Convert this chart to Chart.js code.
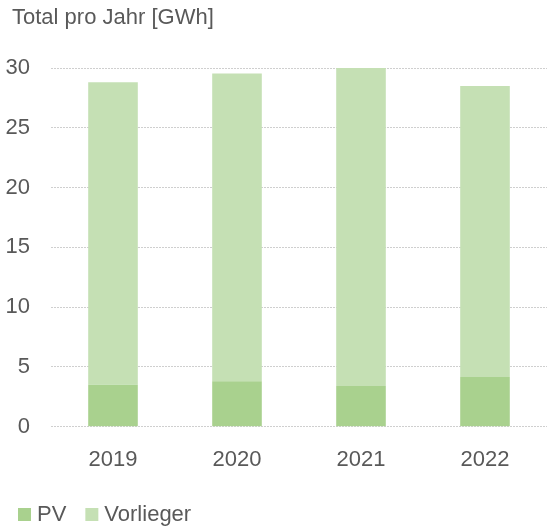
<!DOCTYPE html>
<html>
<head>
<meta charset="utf-8">
<script src="https://cdn.jsdelivr.net/npm/chart.js@4/dist/chart.umd.min.js"></script>
<style>
html,body{margin:0;padding:0;background:#fff;}
#wrap{width:548px;height:529px;position:relative;}
</style>
</head>
<body>
<div id="wrap"><canvas id="c" width="548" height="529"></canvas></div>
<script>
const categories = ['2019', '2020', '2021', '2022'];
const pvValues = [3.5, 3.8, 3.4, 4.15];
const vorliegerValues = [25.3, 25.75, 26.65, 24.35];
const yTicks = [0, 5, 10, 15, 20, 25, 30];
const titleText = 'Total pro Jahr [GWh]';

const FONT = "'Liberation Sans', Arial, sans-serif";
const TXT = '#595959';
const FS = 22;

const textExtras = {
  id: 'textExtras',
  afterDraw(chart) {
    const ctx = chart.ctx;
    ctx.save();
    ctx.font = FS + 'px ' + FONT;
    ctx.textAlign = 'left';
    ctx.textBaseline = 'middle';
    // title
    ctx.fillStyle = TXT;
    ctx.fillText(titleText, 12, 18.2);
    // legend
    let x = 18;
    const cy = 515;
    chart.data.datasets.forEach(ds => {
      ctx.fillStyle = ds.backgroundColor;
      ctx.fillRect(x, cy - 7, 13, 13);
      x += 13 + 6;
      ctx.fillStyle = TXT;
      ctx.fillText(ds.label, x, cy);
      x += ctx.measureText(ds.label).width + 19;
    });
    ctx.restore();
  }
};

new Chart(document.getElementById('c'), {
  type: 'bar',
  data: {
    labels: categories,
    datasets: [
      { label: 'PV', data: pvValues, backgroundColor: '#a9d18e', borderWidth: 0, barPercentage: 0.4, categoryPercentage: 1.0 },
      { label: 'Vorlieger', data: vorliegerValues, backgroundColor: '#c5e0b4', borderWidth: 0, barPercentage: 0.4, categoryPercentage: 1.0 }
    ]
  },
  plugins: [textExtras],
  options: {
    responsive: false,
    animation: false,
    layout: { padding: { left: 0, right: 1, top: 68, bottom: 35.9 } },
    plugins: {
      tooltip: { enabled: false },
      legend: { display: false },
      title: { display: false }
    },
    scales: {
      x: {
        stacked: true,
        grid: { display: false, drawTicks: false },
        border: { display: false },
        ticks: { color: TXT, font: { family: FONT, size: FS, lineHeight: 1.2 }, padding: 20 }
      },
      y: {
        stacked: true, min: 0, max: 30,
        afterBuildTicks(axis) { axis.ticks = yTicks.map(v => ({ value: v })); },
        afterFit(axis) { axis.width = 51; },
        grid: { color: '#cfcfcf', lineWidth: 1, drawTicks: false },
        border: { display: false, dash: [2, 1] },
        ticks: { color: TXT, font: { family: FONT, size: FS }, padding: 21 }
      }
    }
  }
});
</script>
</body>
</html>
